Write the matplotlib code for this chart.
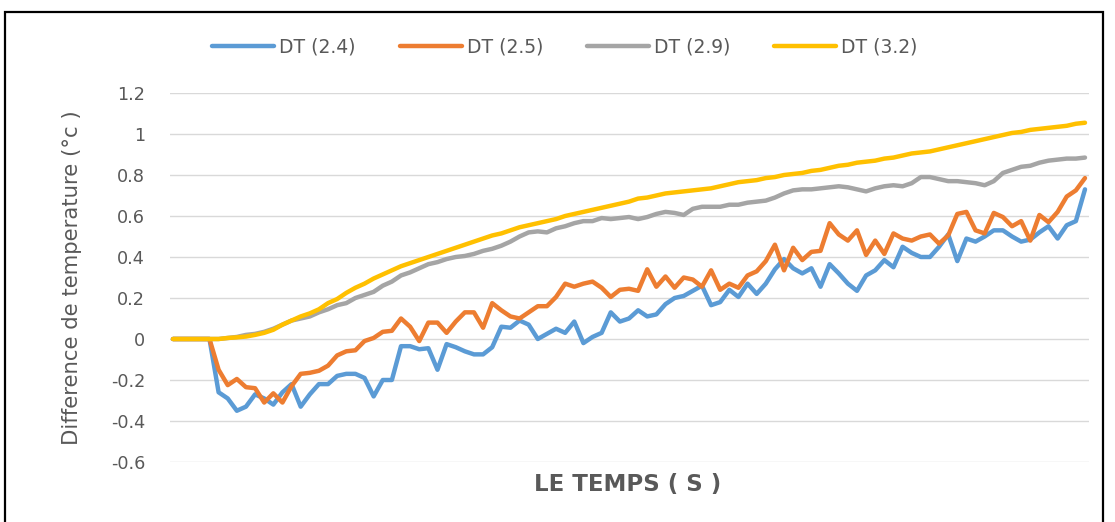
import matplotlib
matplotlib.use("Agg")
import matplotlib.pyplot as plt
from matplotlib.patches import Rectangle

# temperature differences (°C) sampled at regular time steps
dt_24 = [0, 0, 0, 0, 0, -0.26, -0.29, -0.35, -0.33, -0.27,
         -0.29, -0.32, -0.26, -0.22, -0.33, -0.27, -0.22, -0.22, -0.18, -0.17,
         -0.17, -0.19, -0.28, -0.20, -0.20, -0.035, -0.035, -0.05, -0.045, -0.15,
         -0.025, -0.04, -0.06, -0.075, -0.075, -0.04, 0.06, 0.055, 0.09, 0.07,
         0.0, 0.025, 0.05, 0.03, 0.085, -0.02, 0.01, 0.03, 0.13, 0.085,
         0.10, 0.14, 0.11, 0.12, 0.17, 0.20, 0.21, 0.235, 0.26, 0.165,
         0.18, 0.24, 0.205, 0.27, 0.22, 0.27, 0.34, 0.39, 0.345, 0.32,
         0.345, 0.255, 0.365, 0.32, 0.27, 0.235, 0.31, 0.335, 0.385, 0.35,
         0.45, 0.42, 0.40, 0.40, 0.45, 0.51, 0.38, 0.49, 0.475, 0.50,
         0.53, 0.53, 0.50, 0.475, 0.485, 0.52, 0.55, 0.49, 0.555, 0.575,
         0.73]
dt_25 = [0, 0, 0, 0, 0, -0.15, -0.225, -0.195, -0.235, -0.24,
         -0.31, -0.265, -0.31, -0.23, -0.17, -0.165, -0.155, -0.13, -0.08, -0.06,
         -0.055, -0.01, 0.005, 0.035, 0.04, 0.10, 0.06, -0.01, 0.08, 0.08,
         0.03, 0.085, 0.13, 0.13, 0.055, 0.175, 0.14, 0.11, 0.10, 0.13,
         0.16, 0.16, 0.205, 0.27, 0.255, 0.27, 0.28, 0.25, 0.205, 0.24,
         0.245, 0.235, 0.34, 0.255, 0.305, 0.25, 0.30, 0.29, 0.255, 0.335,
         0.24, 0.27, 0.25, 0.31, 0.33, 0.38, 0.46, 0.335, 0.445, 0.385,
         0.425, 0.43, 0.565, 0.51, 0.48, 0.53, 0.41, 0.48, 0.415, 0.515,
         0.49, 0.48, 0.50, 0.51, 0.465, 0.505, 0.61, 0.62, 0.53, 0.515,
         0.615, 0.595, 0.55, 0.575, 0.48, 0.605, 0.57, 0.62, 0.695, 0.725,
         0.785]
dt_29 = [0, 0, 0, 0, 0, 0.0, 0.005, 0.01, 0.02, 0.025,
         0.035, 0.05, 0.07, 0.09, 0.10, 0.11, 0.13, 0.145, 0.165, 0.175,
         0.20, 0.215, 0.23, 0.26, 0.28, 0.31, 0.325, 0.345, 0.365, 0.375,
         0.39, 0.40, 0.405, 0.415, 0.43, 0.44, 0.455, 0.475, 0.50, 0.52,
         0.525, 0.52, 0.54, 0.55, 0.565, 0.575, 0.575, 0.59, 0.585, 0.59,
         0.595, 0.585, 0.595, 0.61, 0.62, 0.615, 0.605, 0.635, 0.645, 0.645,
         0.645, 0.655, 0.655, 0.665, 0.67, 0.675, 0.69, 0.71, 0.725, 0.73,
         0.73, 0.735, 0.74, 0.745, 0.74, 0.73, 0.72, 0.735, 0.745, 0.75,
         0.745, 0.76, 0.79, 0.79, 0.78, 0.77, 0.77, 0.765, 0.76, 0.75,
         0.77, 0.81, 0.825, 0.84, 0.845, 0.86, 0.87, 0.875, 0.88, 0.88,
         0.885]
dt_32 = [0, 0, 0, 0, 0, 0, 0.005, 0.008, 0.012, 0.02,
         0.03, 0.045, 0.07, 0.09, 0.11, 0.125, 0.145, 0.175, 0.195, 0.225,
         0.25, 0.27, 0.295, 0.315, 0.335, 0.355, 0.37, 0.385, 0.40, 0.415,
         0.43, 0.445, 0.46, 0.475, 0.49, 0.505, 0.515, 0.53, 0.545, 0.555,
         0.565, 0.575, 0.585, 0.60, 0.61, 0.62, 0.63, 0.64, 0.65, 0.66,
         0.67, 0.685, 0.69, 0.70, 0.71, 0.715, 0.72, 0.725, 0.73, 0.735,
         0.745, 0.755, 0.765, 0.77, 0.775, 0.785, 0.79, 0.80, 0.805, 0.81,
         0.82, 0.825, 0.835, 0.845, 0.85, 0.86, 0.865, 0.87, 0.88, 0.885,
         0.895, 0.905, 0.91, 0.915, 0.925, 0.935, 0.945, 0.955, 0.965, 0.975,
         0.985, 0.995, 1.005, 1.01, 1.02, 1.025, 1.03, 1.035, 1.04, 1.05,
         1.055]

labels = ["DT (2.4)", "DT (2.5)", "DT (2.9)", "DT (3.2)"]
colors = ["#5B9BD5", "#ED7D31", "#A5A5A5", "#FFC000"]
y_ticks = [-0.6, -0.4, -0.2, 0, 0.2, 0.4, 0.6, 0.8, 1, 1.2]
y_tick_labels = ["-0.6", "-0.4", "-0.2", "0", "0.2", "0.4", "0.6", "0.8", "1", "1.2"]

plt.rcParams['font.family'] = ['DejaVu Sans']
text_col = "#595959"

W, H = 1115, 522
fig = plt.figure(figsize=(W / 100, H / 100), dpi=100)
fig.patch.set_facecolor("white")

# plot area in pixel coordinates
left, right, top, bottom = 170, 1089, 93, 462
ax = fig.add_axes([left / W, 1 - bottom / H, (right - left) / W, (bottom - top) / H])

series = [dt_24, dt_25, dt_29, dt_32]
x = list(range(len(dt_24)))
for vals, lab, col in zip(series, labels, colors):
    ax.plot(x, vals, color=col, lw=3.2, label=lab, solid_capstyle="round",
            solid_joinstyle="round")

ax.set_xlim(-0.33, 100.44)
ax.set_ylim(-0.6, 1.2)
ax.set_yticks(y_ticks)
ax.set_yticklabels(y_tick_labels)
ax.set_xticks([])
ax.grid(axis="y", color="#D9D9D9", lw=1)
ax.set_axisbelow(True)
for s in ax.spines.values():
    s.set_visible(False)
ax.tick_params(axis="y", length=0, pad=18, labelsize=12.7, labelcolor=text_col)

fig.text(72 / W, 1 - 278 / H, "Difference de temperature (°c )", rotation=90,
         ha="center", va="center", fontsize=15.3, color=text_col)
fig.text(628 / W, 1 - 484 / H, "LE TEMPS ( S )", ha="center", va="center",
         fontsize=16.5, fontweight="bold", color=text_col)

leg = fig.legend(loc="center", bbox_to_anchor=(565 / W, 1 - 47 / H), ncol=4,
                 frameon=False, fontsize=13.5, handlelength=3.3,
                 handletextpad=0.27, columnspacing=2.35)
for t in leg.get_texts():
    t.set_color(text_col)

# chart border
fig.patches.append(Rectangle((5 / W, -0.05), (1103 - 5) / W, 1.05 - 12 / H,
                             transform=fig.transFigure, fill=False,
                             edgecolor="black", lw=1.6))

fig.savefig("out.png", dpi=100)
